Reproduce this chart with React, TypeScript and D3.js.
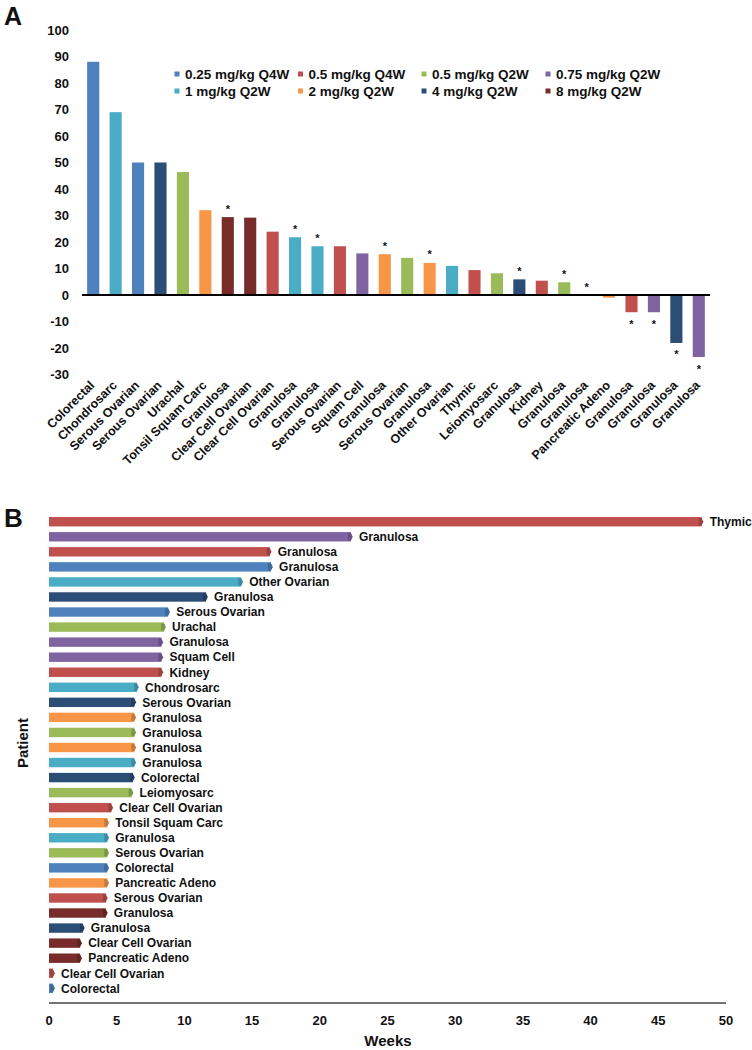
import React from "react";
import * as d3 from "d3";

// ---------- Shared dose legend ----------
const doseLabels = [
  "0.25 mg/kg Q4W",
  "0.5 mg/kg Q4W",
  "0.5 mg/kg Q2W",
  "0.75 mg/kg Q2W",
  "1 mg/kg Q2W",
  "2 mg/kg Q2W",
  "4 mg/kg Q2W",
  "8 mg/kg Q2W",
];
const doseColors = ["#4F81BD", "#C0504D", "#9BBB59", "#8064A2", "#4BACC6", "#F79646", "#2C4D75", "#772C2A"];

// ---------- Panel A: best % change (waterfall) ----------
const waterfallTumors = [
  "Colorectal", "Chondrosarc", "Serous Ovarian", "Serous Ovarian", "Urachal", "Tonsil Squam Carc",
  "Granulosa", "Clear Cell Ovarian", "Clear Cell Ovarian", "Granulosa", "Granulosa", "Serous Ovarian",
  "Squam Cell", "Granulosa", "Serous Ovarian", "Granulosa", "Other Ovarian", "Thymic", "Leiomyosarc",
  "Granulosa", "Kidney", "Granulosa", "Granulosa", "Pancreatic Adeno", "Granulosa", "Granulosa",
  "Granulosa", "Granulosa",
];
const waterfallDose = [0, 4, 0, 6, 2, 5, 7, 7, 1, 4, 4, 1, 3, 5, 2, 5, 4, 1, 2, 6, 1, 2, 0, 5, 1, 3, 6, 3];
const waterfallChange = [
  88, 69, 50, 50, 46.4, 32, 29.4, 29.2, 23.9, 21.8, 18.4, 18.4, 15.7, 15.4, 14, 12.1, 11, 9.4, 8.2,
  5.9, 5.4, 4.8, 0, -1, -6.5, -6.5, -18.1, -23.4,
];
const waterfallAsterisk = [
  false, false, false, false, false, false, true, false, false, true, true, false, false, true, false,
  true, false, false, false, true, false, true, true, false, true, true, true, true,
];
const waterfallTicks = [100, 90, 80, 70, 60, 50, 40, 30, 20, 10, 0, -10, -20, -30];

// ---------- Panel B: duration (swimmer) ----------
const durationTumors = [
  "Thymic", "Granulosa", "Granulosa", "Granulosa", "Other Ovarian", "Granulosa", "Serous Ovarian",
  "Urachal", "Granulosa", "Squam Cell", "Kidney", "Chondrosarc", "Serous Ovarian", "Granulosa",
  "Granulosa", "Granulosa", "Granulosa", "Colorectal", "Leiomyosarc", "Clear Cell Ovarian",
  "Tonsil Squam Carc", "Granulosa", "Serous Ovarian", "Colorectal", "Pancreatic Adeno", "Serous Ovarian",
  "Granulosa", "Granulosa", "Clear Cell Ovarian", "Pancreatic Adeno", "Clear Cell Ovarian", "Colorectal",
];
const durationDose = [1, 3, 1, 0, 4, 6, 0, 2, 3, 3, 1, 4, 6, 5, 2, 5, 4, 6, 2, 1, 5, 4, 2, 0, 5, 1, 7, 6, 7, 7, 1, 0];
const durationWeeks = [
  48.2, 22.3, 16.3, 16.4, 14.2, 11.6, 8.8, 8.5, 8.3, 8.3, 8.3, 6.5, 6.3, 6.3, 6.3, 6.3, 6.3, 6.2, 6.1,
  4.6, 4.3, 4.3, 4.3, 4.3, 4.3, 4.2, 4.2, 2.5, 2.3, 2.3, 0.3, 0.3,
];
const weekTicks = [0, 5, 10, 15, 20, 25, 30, 35, 40, 45, 50];

const FONT = "'Liberation Sans', Arial, Helvetica, sans-serif";
const TEXT = "#111";

export default function App() {
  // Panel A scales
  const xA = d3
    .scaleBand<number>()
    .domain(d3.range(waterfallChange.length))
    .range([82, 710])
    .paddingInner(0.46)
    .paddingOuter(0.23);
  const yA = d3.scaleLinear().domain([-30, 100]).range([374.5, 30]);

  // Panel B scales
  const xB = d3.scaleLinear().domain([0, 50]).range([49, 726]);
  const yB = d3
    .scaleBand<number>()
    .domain(d3.range(durationWeeks.length))
    .range([514.2, 995.8])
    .paddingInner(0.375)
    .paddingOuter(0.1875);

  const legendColX = [177, 300.5, 424, 548];
  const legendRowY = [74, 91];

  return (
    <svg
      width={752}
      height={1050}
      style={{ position: "absolute", left: 0, top: 0, background: "#fff" }}
      fontFamily={FONT}
      fontWeight="bold"
    >
      <rect x={0} y={0} width={752} height={1050} fill="#fff" />

      {/* ===== Panel A ===== */}
      <text x={4} y={25} fontSize={25} fill={TEXT}>A</text>

      {waterfallTicks.map((t) => (
        <text key={"ya" + t} x={69} y={yA(t)} dy="0.35em" textAnchor="end" fontSize={13} fill={TEXT}>
          {t}
        </text>
      ))}

      {waterfallChange.map((v, i) => {
        const x = xA(i)!;
        const y0 = yA(0);
        const y1 = yA(v);
        return (
          <rect
            key={"ba" + i}
            x={x}
            y={Math.min(y0, y1)}
            width={xA.bandwidth()}
            height={Math.abs(y1 - y0)}
            fill={doseColors[waterfallDose[i]]}
          />
        );
      })}

      {waterfallChange.map((v, i) =>
        waterfallAsterisk[i] ? (
          <text
            key={"as" + i}
            x={xA(i)! + xA.bandwidth() / 2}
            y={v >= 0 ? yA(v) - 10 + 5.5 : yA(v) + 10 + 5.5}
            textAnchor="middle"
            fontSize={11}
            fill={TEXT}
          >
            *
          </text>
        ) : null
      )}

      <line x1={82} x2={710} y1={yA(0)} y2={yA(0)} stroke="#000" strokeWidth={2} />

      {waterfallTumors.map((name, i) => {
        const cx = xA(i)! + xA.bandwidth() / 2 + 2;
        const cy = 386;
        return (
          <text
            key={"la" + i}
            x={cx}
            y={cy}
            textAnchor="end"
            fontSize={12.5}
            fill={TEXT}
            transform={`rotate(-45, ${cx}, ${cy})`}
          >
            {name}
          </text>
        );
      })}

      {doseLabels.map((lab, i) => {
        const col = i % 4;
        const row = Math.floor(i / 4);
        const x = legendColX[col];
        const y = legendRowY[row];
        return (
          <g key={"lg" + i}>
            <rect x={x - 2.5} y={y - 2.5} width={5} height={5} fill={doseColors[i]} />
            <text x={x + 8} y={y} dy="0.36em" fontSize={13.5} fill={TEXT}>
              {lab}
            </text>
          </g>
        );
      })}

      {/* ===== Panel B ===== */}
      <text x={4} y={527} fontSize={26} fill={TEXT}>B</text>

      {durationWeeks.map((w, i) => {
        const y = yB(i)!;
        const h = yB.bandwidth();
        const xe = xB(w);
        const c = doseColors[durationDose[i]];
        const dark = d3.color(c)!.darker(0.6).formatHex();
        const capStart = Math.max(xB(0) - 1, xe - 3);
        const cap = `M${capStart},${y + 1} L${xe},${y + 1} L${xe + 1.8},${y + h / 2} L${xe},${y + h - 1} L${capStart},${y + h - 1} Z`;
        return (
          <g key={"bb" + i}>
            <rect x={xB(0)} y={y} width={Math.max(0, xe - xB(0))} height={h} fill={c} />
            <path d={cap} fill={dark} />
            <text x={xe + 8} y={y + h / 2} dy="0.36em" fontSize={12} fill={TEXT}>
              {durationTumors[i]}
            </text>
          </g>
        );
      })}

      <line x1={xB(0)} x2={xB(50)} y1={1003} y2={1003} stroke="#444" strokeWidth={1.5} />
      {weekTicks.map((t) => (
        <text key={"xb" + t} x={xB(t)} y={1025} textAnchor="middle" fontSize={13} fill={TEXT}>
          {t}
        </text>
      ))}
      <text x={388} y={1046} textAnchor="middle" fontSize={15} fill={TEXT}>Weeks</text>
      <text
        x={28}
        y={743}
        textAnchor="middle"
        fontSize={15}
        fill={TEXT}
        transform="rotate(-90, 28, 743)"
      >
        Patient
      </text>
    </svg>
  );
}
